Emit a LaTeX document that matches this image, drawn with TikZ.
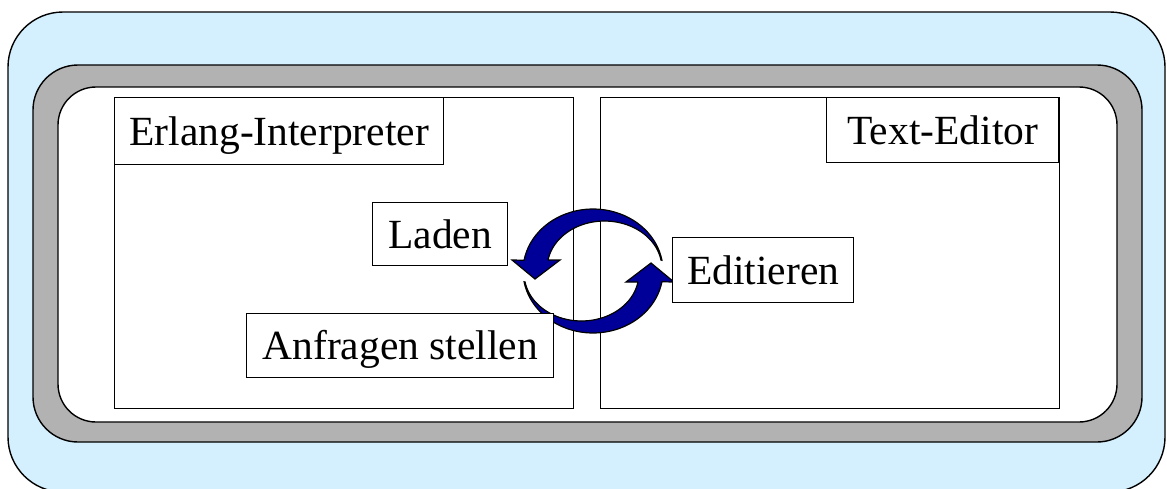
\documentclass[tikz,border=0pt]{standalone}
\usepackage{fontspec}
\setmainfont{Liberation Serif}
\definecolor{skyfill}{RGB}{212,239,253}
\definecolor{greyfill}{RGB}{178,178,178}
\definecolor{navyfill}{RGB}{0,0,153}
\begin{document}
\begin{tikzpicture}[x=1pt,y=-1pt,
  frame/.style={draw=black,line width=1.4pt},
  panel/.style={draw=black,line width=1.4pt,fill=white,inner sep=0pt,anchor=north west},
  lbl/.style={draw=black,line width=1.4pt,fill=white,inner sep=0pt,anchor=north west,
    font=\fontsize{41.5}{49}\selectfont,text height=28pt,text depth=0pt},
  circarrow/.style={fill=navyfill,draw=black,line width=1.2pt,line join=miter}]
\useasboundingbox (0,0) rectangle (1167,488);
% frames
\draw[frame,fill=skyfill,rounded corners=55pt] (8,12) rectangle (1165,492);
\draw[frame,fill=greyfill,rounded corners=45pt] (33,65) rectangle (1142,442);
\draw[frame,fill=white,rounded corners=38pt] (58,87) rectangle (1117,422);
% panels
\node[panel,minimum width=459pt,minimum height=311pt] (lp) at (114,97) {};
\node[panel,minimum width=459pt,minimum height=311pt] (rp) at (600,97) {};
% circular arrows
\filldraw[circarrow]
  plot[domain=10:170,samples=40] ({593+70*cos(\x)},{271-62*sin(\x)})
  -- (512,260) -- (535,279) -- (560,260) -- (548,260)
  -- plot[domain=170.2:9.8,samples=40] ({604.5+57.3*cos(\x)},{268-47*sin(\x)})
  -- cycle;
\begin{scope}[rotate around={180:(593,271)}]
\filldraw[circarrow]
  plot[domain=10:170,samples=40] ({593+70*cos(\x)},{271-62*sin(\x)})
  -- (512,260) -- (535,279) -- (560,260) -- (548,260)
  -- plot[domain=170.2:9.8,samples=40] ({604.5+57.3*cos(\x)},{268-47*sin(\x)})
  -- cycle;
\end{scope}
% labels
\node[lbl,minimum width=329pt,minimum height=67pt] (erl) at (114,97) {Erlang-Interpreter};
\node[lbl,minimum width=232pt,minimum height=65pt] (ted) at (826,97) {Text-Editor};
\node[lbl,minimum width=135pt,minimum height=63pt] (lad) at (372,202) {Laden};
\node[lbl,minimum width=181pt,minimum height=65pt] (edi) at (672,237) {Editieren};
\node[lbl,minimum width=307pt,minimum height=64pt] (anf) at (246,313) {Anfragen stellen};
\end{tikzpicture}
\end{document}
